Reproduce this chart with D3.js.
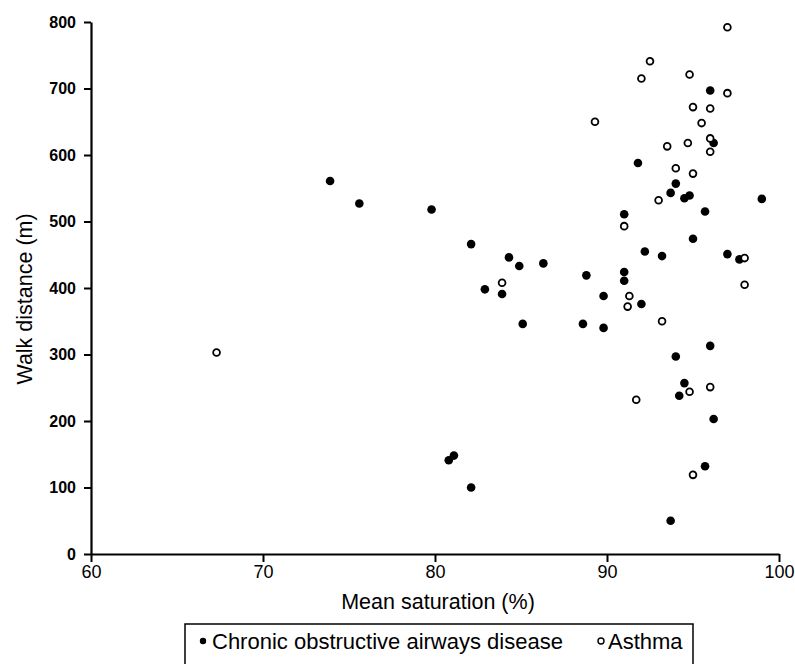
<!DOCTYPE html>
<html><head><meta charset="utf-8">
<script src="https://cdn.jsdelivr.net/npm/d3@7"></script>
<style>body{margin:0;background:#fff}svg{display:block}</style>
</head><body>
<script>
const xTicks = [60,70,80,90,100];
const yTicks = [0,100,200,300,400,500,600,700,800];
const copdX = [73.9,75.6,79.8,82.1,84.3,84.9,86.3,83.9,82.9,85.1,81.1,80.8,82.1,88.8,88.6,89.8,89.8,91.0,91.0,91.0,91.8,92.0,92.2,93.2,93.7,94.0,94.5,94.8,95.0,95.7,96.0,96.2,97.0,97.7,99.0,94.0,94.5,94.2,96.0,96.2,95.7,93.7];
const copdY = [561,527,518,466,446,433,437,391,398,346,148,141,100,419,346,388,340,424,411,511,588,376,455,448,543,557,535,539,474,515,697,618,451,443,534,297,257,238,313,203,132,50];
const asthmaX = [67.3,83.9,89.3,91.0,91.3,91.2,91.7,92.0,92.5,93.0,93.2,93.5,94.0,94.7,94.8,94.8,95.0,95.0,95.0,95.5,96.0,96.0,96.0,96.0,97.0,97.0,98.0,98.0];
const asthmaY = [303,408,650,493,388,372,232,715,741,532,350,613,580,618,721,244,672,572,119,648,670,625,605,251,792,693,445,405];
const legendLabels = ["Chronic obstructive airways disease","Asthma"];

const FONT="Liberation Sans, Arial, Helvetica, sans-serif";
const W=795,H=664;
const svg=d3.select("body").append("svg").attr("width",W).attr("height",H);
const x=d3.scaleLinear().domain([60,100]).range([91,779]);
const y=d3.scaleLinear().domain([0,800]).range([554,22]);

const xa=svg.append("g").attr("transform","translate(0,554)")
  .call(d3.axisBottom(x).tickValues(xTicks).tickSize(8).tickPadding(3).tickSizeOuter(0));
xa.selectAll("text").attr("font-family",FONT).attr("font-size",18).attr("fill","#000");
const ya=svg.append("g").attr("transform","translate(91,0)")
  .call(d3.axisLeft(y).tickValues(yTicks).tickSize(7).tickPadding(8).tickSizeOuter(0));
ya.selectAll("text").attr("font-family",FONT).attr("font-size",16).attr("font-weight","bold").attr("fill","#000");
svg.selectAll(".domain").attr("stroke","#000").attr("stroke-width",2.2);
svg.selectAll(".tick line").attr("stroke","#000").attr("stroke-width",2);

svg.append("text").attr("x",438).attr("y",609).attr("text-anchor","middle")
  .attr("font-family",FONT).attr("font-size",21.5).attr("fill","#000").text("Mean saturation (%)");
svg.append("text").attr("transform","translate(32,299) rotate(-90)").attr("text-anchor","middle")
  .attr("font-family",FONT).attr("font-size",21.5).attr("fill","#000").text("Walk distance (m)");

svg.append("g").selectAll("circle").data(copdX.map((v,i)=>[v,copdY[i]])).join("circle")
  .attr("cx",d=>x(d[0])).attr("cy",d=>y(d[1])).attr("r",4.3).attr("fill","#000");
svg.append("g").selectAll("circle").data(asthmaX.map((v,i)=>[v,asthmaY[i]])).join("circle")
  .attr("cx",d=>x(d[0])).attr("cy",d=>y(d[1])).attr("r",3.4).attr("fill","#fff").attr("stroke","#000").attr("stroke-width",1.8);

// legend
const lg=svg.append("g");
lg.append("rect").attr("x",185).attr("y",624).attr("width",508).attr("height",50).attr("fill","none").attr("stroke","#000").attr("stroke-width",1.5);
lg.append("circle").attr("cx",203).attr("cy",641).attr("r",3.2).attr("fill","#000");
lg.append("text").attr("x",212).attr("y",649).attr("font-family",FONT).attr("font-size",22).attr("fill","#000").text(legendLabels[0]);
lg.append("circle").attr("cx",601).attr("cy",641).attr("r",3).attr("fill","#fff").attr("stroke","#000").attr("stroke-width",1.4);
lg.append("text").attr("x",608).attr("y",649).attr("font-family",FONT).attr("font-size",22).attr("fill","#000").text(legendLabels[1]);
</script>
</body></html>
